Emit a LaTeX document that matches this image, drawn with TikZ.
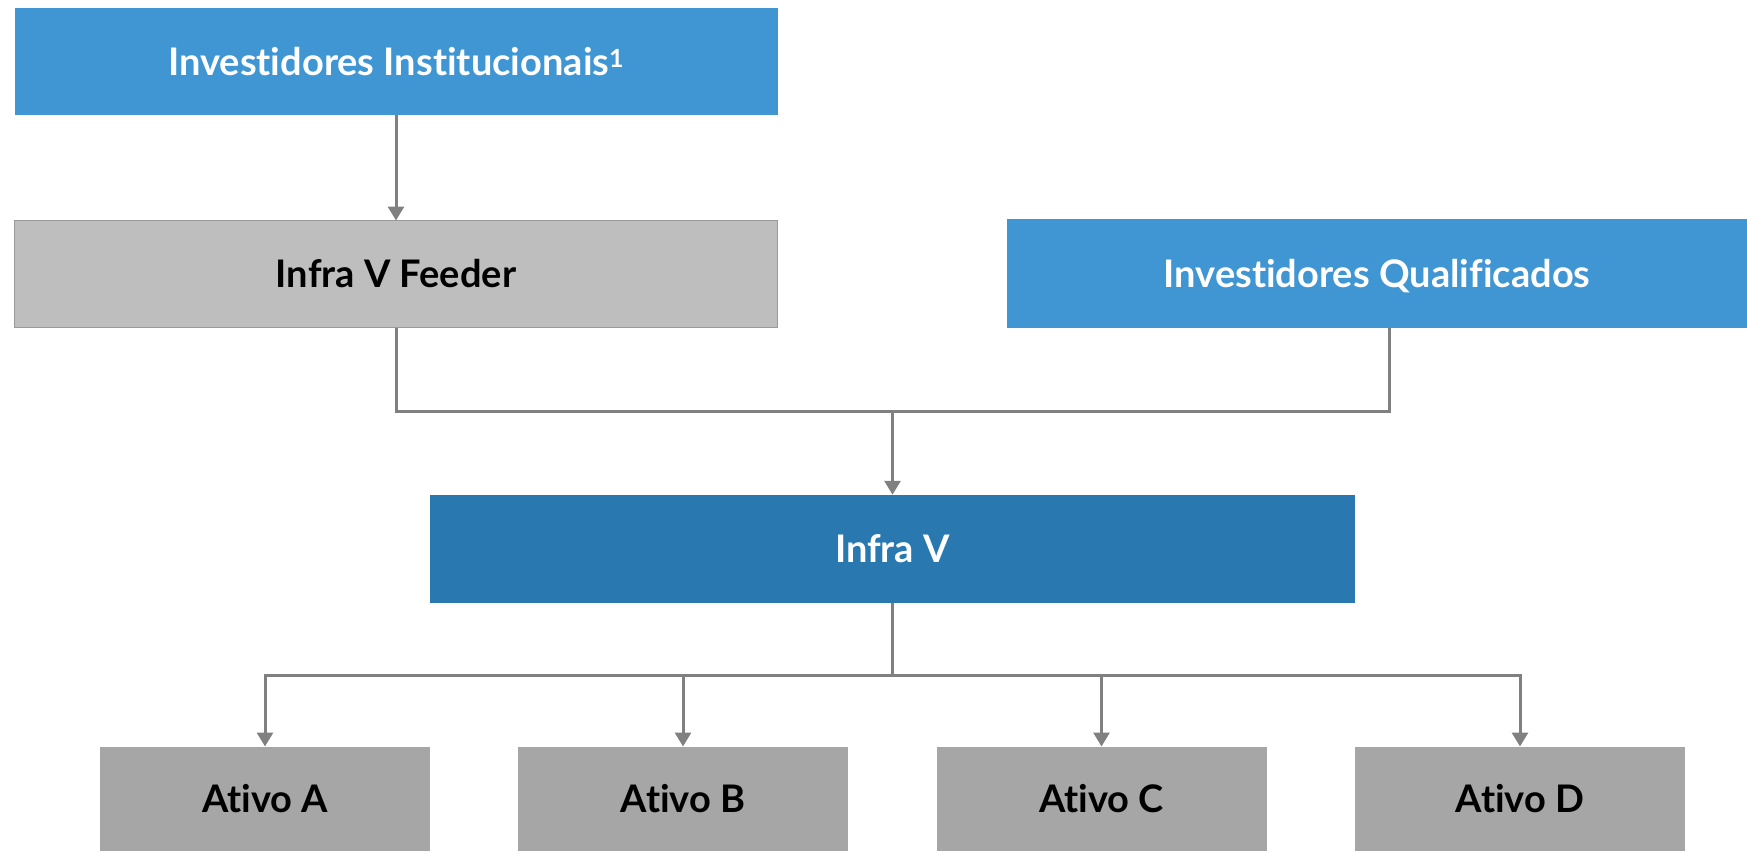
\documentclass[tikz,border=0pt]{standalone}
\usepackage{fontspec}
\setmainfont[Ligatures=NoCommon]{Lato}
\usetikzlibrary{arrows.meta}
\definecolor{lightblue}{HTML}{3F96D2}
\definecolor{darkblue}{HTML}{2A78B0}
\definecolor{feedergray}{HTML}{BEBEBE}
\definecolor{feederedge}{HTML}{9A9A9A}
\definecolor{assetgray}{HTML}{A6A6A6}
\definecolor{linegray}{HTML}{808080}
\begin{document}
\begin{tikzpicture}[x=1pt,y=-1pt,
  box/.style={rectangle, inner sep=0pt, outer sep=0pt, text height=27.5pt, text depth=0pt, font=\fontsize{38pt}{42pt}\selectfont\bfseries},
  bluebox/.style={box, fill=lightblue, text=white},
  infrabox/.style={box, fill=darkblue, text=white},
  feederbox/.style={box, fill=feedergray, draw=feederedge, line width=1.5pt, text=black},
  assetbox/.style={box, fill=assetgray, text=black, minimum width=330pt, minimum height=104.5pt},
  conn/.style={draw=linegray, line width=3pt},
  arr/.style={conn, -{Triangle[width=16pt,length=14pt]}}
]
\path[fill=white,use as bounding box] (0,0) rectangle (1747,851);

\node[bluebox, minimum width=763pt, minimum height=107pt] (inst) at (396,61.5) {Investidores Institucionais\raisebox{8pt}{\fontsize{25pt}{26pt}\selectfont 1}};
\node[feederbox, minimum width=763pt, minimum height=107pt] (feeder) at (396,274) {Infra V Feeder};
\node[bluebox, minimum width=740pt, minimum height=108.5pt] (qual) at (1377,273.5) {Investidores Qualificados};
\node[infrabox, minimum width=925pt, minimum height=108.5pt] (infra) at (892.5,549) {Infra V};

\node[assetbox] (a) at (265,798.75) {Ativo A};
\node[assetbox] (b) at (683,798.75) {Ativo B};
\node[assetbox] (c) at (1101.5,798.75) {Ativo C};
\node[assetbox] (d) at (1520,798.75) {Ativo D};

\coordinate (j1) at (892.5,411);
\coordinate (j2) at (892.5,675);

\draw[arr] (inst.south) -- (feeder.north);
\draw[conn] (feeder.south) |- (j1);
\draw[conn] ([xshift=12pt]qual.south) |- (j1);
\draw[arr] (j1) -- (infra.north);
\draw[conn] (infra.south) -- (j2);
\draw[arr] (j2) -| (a.north);
\draw[arr] (j2) -| (b.north);
\draw[arr] (j2) -| (c.north);
\draw[arr] (j2) -| (d.north);
\end{tikzpicture}
\end{document}
